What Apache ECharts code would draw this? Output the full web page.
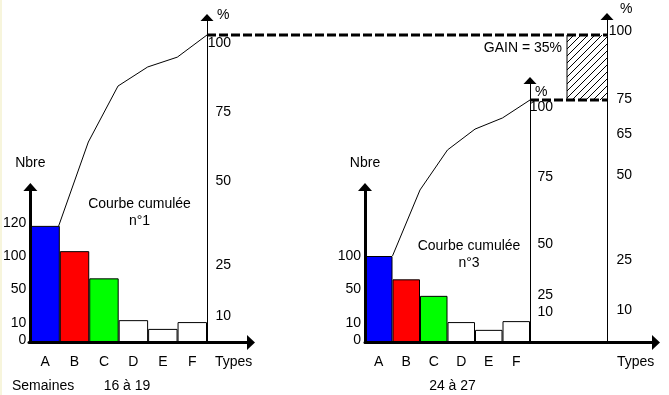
<!DOCTYPE html>
<html><head><meta charset="utf-8">
<script src="https://cdn.jsdelivr.net/npm/echarts@6/dist/echarts.min.js"></script>
<style>html,body{margin:0;padding:0;background:#fff}#c{width:669px;height:395px;position:absolute;left:0;top:0}#strip{position:absolute;left:0;top:0;width:2px;height:395px;background:#f7f5dc;z-index:5}</style>
</head><body><div id="c"></div><div id="strip"></div>
<script>
// ---------- data ----------
const types = ['A', 'B', 'C', 'D', 'E', 'F'];
const countsWeeks16to19 = [120, 94, 66, 23, 14, 21];
const cumPctWeeks16to19 = [37.9, 65.2, 83.4, 89.6, 92.8, 100];
const countsWeeks24to27 = [89, 65, 48, 21, 13, 22];
const cumPctWeeks24to27 = [35.7, 62.9, 79.4, 88.0, 92.6, 100];
const countTickLabels = ['0', '10', '50', '100', '120'];
const countTickLabelsRight = ['0', '10', '50', '100'];
const pctTickLabelsLeft = ['10', '25', '50', '75', '100'];
const pctTickLabelsMid = ['10', '25', '50', '75', '100'];
const pctTickLabelsFar = ['10', '25', '50', '65', '75', '100'];
const gainBand = [78.9, 100];
const gainText = 'GAIN = 35%';
const curveTitle1 = 'Courbe cumulée\nn°1';
const curveTitle3 = 'Courbe cumulée\nn°3';
const weeksLabel = 'Semaines';
const weeks1 = '16 à 19';
const weeks2 = '24 à 27';

// ---------- layout / style ----------
const countTickAt = [2.5, 20, 54.5, 88.8, 123];
const pctTickAtLeft = [8.6, 25.2, 52.5, 74.8, 97.4];
const pctTickAtMid = [12.6, 19.4, 40.6, 68.2, 96.9];
const pctTickAtFar = [10.6, 26.8, 54.5, 67.8, 79.0, 101.3];
const barColors = ['#0000ff', '#ff0000', '#00ff00', '#ffffff', '#ffffff', '#ffffff'];
const FF = '"Liberation Sans", Arial, sans-serif';
const FONT = { fontFamily: FF, fontSize: 14, color: '#000' };
const BASE = 52.5;

function labeler(at, txt) {
  return function (v) {
    let b = 0;
    for (let i = 1; i < at.length; i++) if (Math.abs(at[i] - v) < Math.abs(at[b] - v)) b = i;
    return txt[b];
  };
}

const hatch = document.createElement('canvas');
hatch.width = 7; hatch.height = 7;
(function () {
  const g = hatch.getContext('2d');
  g.strokeStyle = '#000'; g.lineWidth = 1;
  g.beginPath(); g.moveTo(-1, 8); g.lineTo(8, -1); g.stroke();
})();

const chart = echarts.init(document.getElementById('c'), null, { renderer: 'canvas' });

function catX(grid) {
  return { gridIndex: grid, type: 'category', data: types, axisLine: { show: false, onZero: false }, axisTick: { show: false },
    axisLabel: Object.assign({}, FONT, { margin: 13, interval: 0 }) };
}
function hidX(grid, max) { return { gridIndex: grid, type: 'value', min: 0, max: max, show: false, axisLine: { onZero: false } }; }
function arrowX(grid, gap) {
  return { gridIndex: grid, type: 'value', min: 0, max: 1, z: 10,
    axisLine: { show: true, onZero: false, lineStyle: { color: '#000', width: 3 }, symbol: ['none', 'triangle'], symbolSize: [15, 8] },
    axisTick: { show: false }, axisLabel: { show: false }, splitLine: { show: false },
    name: 'Types', nameLocation: 'end', nameGap: gap,
    nameTextStyle: Object.assign({}, FONT, { align: 'left', verticalAlign: 'top', padding: [13, 0, 0, 0] }) };
}
function countY(grid, labels) {
  const at = countTickAt.slice(0, labels.length);
  return { gridIndex: grid, type: 'value', min: 0, max: 160, z: 10,
    axisLine: { show: true, onZero: false, lineStyle: { color: '#000', width: 3 }, symbol: ['none', 'triangle'], symbolSize: [14, 8] },
    axisTick: { show: false }, splitLine: { show: false },
    axisLabel: Object.assign({}, FONT, { margin: 4, customValues: at, formatter: labeler(at, labels) }),
    name: 'Nbre', nameLocation: 'end', nameGap: 24,
    nameTextStyle: Object.assign({}, FONT, { align: 'center', verticalAlign: 'middle' }) };
}
function pctY(grid, max, at, labels, margin, gap, padLeft) {
  return { gridIndex: grid, type: 'value', position: 'right', min: 0, max: max, z: 10,
    axisLine: { show: true, onZero: false, lineStyle: { color: '#000', width: 1 }, symbol: ['none', 'triangle'], symbolSize: [13, 7] },
    axisTick: { show: false }, splitLine: { show: false },
    axisLabel: Object.assign({}, FONT, { margin: margin, align: 'right', customValues: at, formatter: labeler(at, labels) }),
    name: '%', nameLocation: 'end', nameGap: gap,
    nameTextStyle: Object.assign({}, FONT, { align: 'left', verticalAlign: 'middle', padding: [0, 0, 0, padLeft] }) };
}
function bars(xi, yi, vals) {
  return { type: 'bar', xAxisIndex: xi, yAxisIndex: yi, barCategoryGap: '0%', silent: true,
    itemStyle: { borderColor: '#000', borderWidth: 1 },
    data: vals.map((v, i) => ({ value: v, itemStyle: { color: barColors[i] } })) };
}
function curve(xi, yi, vals) {
  return { type: 'line', xAxisIndex: xi, yAxisIndex: yi, symbol: 'none', silent: true, z: 5,
    lineStyle: { color: '#000', width: 1 }, data: vals.map((v, i) => [i + 1, v]) };
}

chart.setOption({
  animation: false,
  backgroundColor: '#fff',
  grid: [
    { left: 29, width: 178, top: 187, bottom: BASE },
    { left: 29, width: 178, top: 17.5, bottom: BASE },
    { left: 29, width: 222, top: 300, bottom: BASE },
    { left: 365, width: 165, top: 187, bottom: BASE },
    { left: 365, width: 165, top: 80.5, bottom: BASE },
    { left: 365, width: 291, top: 300, bottom: BASE },
    { left: 567, width: 40, top: 16.5, bottom: BASE }
  ],
  xAxis: [catX(0), hidX(1, 6), arrowX(2, -36), catX(3), hidX(4, 6), arrowX(5, -39), hidX(6, 1)],
  yAxis: [
    countY(0, countTickLabels),
    pctY(1, 105.69, pctTickAtLeft, pctTickLabelsLeft, 24, 2.5, 10),
    { gridIndex: 2, show: false, axisLine: { onZero: false } },
    countY(3, countTickLabelsRight),
    pctY(4, 108.04, pctTickAtMid, pctTickLabelsMid, 23, -11.5, 5),
    { gridIndex: 5, show: false, axisLine: { onZero: false } },
    pctY(6, 106.02, pctTickAtFar, pctTickLabelsFar, 25, 7.5, 13)
  ],
  series: [
    bars(0, 0, countsWeeks16to19),
    curve(1, 1, cumPctWeeks16to19),
    bars(3, 3, countsWeeks24to27),
    curve(4, 4, cumPctWeeks24to27),
    { type: 'custom', xAxisIndex: 6, yAxisIndex: 6, silent: true, encode: { y: [0, 1] },
      data: [gainBand],
      renderItem: function (params, api) {
        const lo = api.value(0), hi = api.value(1);
        const p1 = api.coord([0, hi]), p2 = api.coord([1, lo]);
        return { type: 'group', children: [
          { type: 'rect', shape: { x: p1[0], y: p1[1], width: p2[0] - p1[0], height: p2[1] - p1[1] },
            style: { fill: { image: hatch, repeat: 'repeat' } } },
          { type: 'line', shape: { x1: p1[0], y1: p1[1], x2: p1[0], y2: p2[1] }, style: { stroke: '#000', lineWidth: 1 } }
        ] };
      } }
  ]
});

const txt = (x, y, s, align) => ({ type: 'text', x: x, y: y, z: 100, silent: true,
  style: { text: s, font: '14px ' + FF, fill: '#000', align: align || 'center', verticalAlign: 'middle', lineHeight: 17 } });

const a = chart.convertToPixel({ xAxisIndex: 1, yAxisIndex: 1 }, [6, 100]);
const b = chart.convertToPixel({ xAxisIndex: 6, yAxisIndex: 6 }, [1, gainBand[1]]);
const c = chart.convertToPixel({ xAxisIndex: 4, yAxisIndex: 4 }, [6, 100]);
const d = chart.convertToPixel({ xAxisIndex: 6, yAxisIndex: 6 }, [1, gainBand[0]]);
const dash = { stroke: '#000', lineWidth: 3, lineDash: [9, 3] };

chart.setOption({
  graphic: [
    { type: 'line', z: 100, silent: true, shape: { x1: a[0], y1: a[1], x2: b[0], y2: b[1] }, style: dash },
    { type: 'line', z: 100, silent: true, shape: { x1: c[0], y1: c[1], x2: d[0], y2: d[1] }, style: dash },
    txt(139.5, 212.5, curveTitle1),
    txt(469, 254.5, curveTitle3),
    txt(562, 48, gainText, 'right'),
    txt(12, 386, weeksLabel, 'left'),
    txt(127, 386, weeks1),
    txt(452.5, 386, weeks2)
  ]
});
</script>
</body></html>
